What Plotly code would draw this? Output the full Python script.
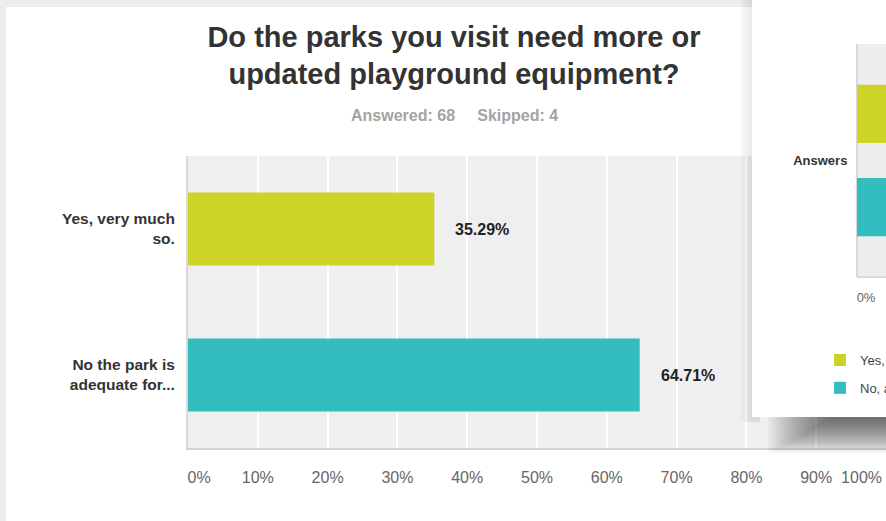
import plotly.graph_objects as go

W, H = 886, 521
FONT = "Liberation Sans, Arial, Helvetica, sans-serif"
NB = "\u00a0"

# ---------------- data ----------------
categories = ["Yes, very much so.", "No the park is adequate for..."]
category_ticktext = ["Yes, very much<br>so.", "No the park is<br>adequate for..."]
percent_values = [35.29, 64.71]
value_labels = ["35.29%", "64.71%"]
bar_colors = ["#cdd428", "#33bdbe"]
x_tick_values = [0, 10, 20, 30, 40, 50, 60, 70, 80, 90, 100]
x_tick_labels = ["0%", "10%", "20%", "30%", "40%", "50%", "60%", "70%", "80%", "90%", "100%"]
title_text = "Do the parks you visit need more or<br>updated playground equipment?"
answered_text = "Answered: 68"
skipped_text = "Skipped: 4"

# popup chart partly visible on the right
inset_categories = ["Answers"]
inset_series_names = ["Yes, very much so.", "No, a..."]
inset_values = [35.29, 64.71]
inset_tick_values = [0]
inset_tick_labels = ["0%"]


# ---------------- helpers (pixel -> coordinates) ----------------
def px_x(px):
    return px / W


def px_y(py):
    return (H - py) / H


X2_ZERO, X2_SCALE = 857, 0.2
Y2_TOP, Y2_BAND = 44, 233


def x2(px):
    return (px - X2_ZERO) * X2_SCALE


def y2(py):
    return -0.5 + (py - Y2_TOP) / Y2_BAND


# tick labels: first left-aligned, last right-aligned like the original
main_ticktext = list(x_tick_labels)
main_ticktext[0] = NB * 5 + main_ticktext[0]
main_ticktext[-1] = main_ticktext[-1] + NB * 11
inset_ticktext = [NB * 5 + t for t in inset_tick_labels]

fig = go.Figure()

fig.add_trace(go.Bar(
    x=percent_values, y=categories, orientation="h",
    marker=dict(color=bar_colors, line=dict(width=0)),
    showlegend=False, hoverinfo="skip", xaxis="x", yaxis="y",
))

for name, val, col in zip(inset_series_names, inset_values, bar_colors):
    fig.add_trace(go.Bar(
        x=[val], y=inset_categories, orientation="h", name=name,
        marker=dict(color=col, line=dict(width=0)),
        legendgroup=name, hoverinfo="skip", xaxis="x2", yaxis="y2",
    ))

shapes = [
    # white card on the light page
    dict(type="rect", xref="paper", yref="paper", x0=px_x(6), x1=1.02, y0=-0.02, y1=px_y(7),
         fillcolor="white", line=dict(width=0), layer="below"),
    # main plot background
    dict(type="rect", xref="paper", yref="paper", x0=px_x(188), x1=1.0, y0=px_y(448), y1=px_y(156),
         fillcolor="#efefef", line=dict(width=0), layer="below"),
]

# popup shadow (soft, darker to the lower right)
for i in range(22):
    shapes.append(dict(type="rect", xref="x2", yref="y2",
                       x0=x2(768 + 3 * i), x1=x2(900), y0=y2(400), y1=y2(453 - 1.6 * i),
                       fillcolor="rgba(0,0,0,0.033)", line=dict(width=0), layer="below"))
for i in range(4):
    shapes.append(dict(type="rect", xref="x2", yref="y2",
                       x0=x2(740 + 3 * i), x1=x2(760), y0=y2(-5), y1=y2(422),
                       fillcolor="rgba(0,0,0,0.018)", line=dict(width=0), layer="below"))
# popup panel
shapes.append(dict(type="rect", xref="x2", yref="y2", x0=x2(752), x1=x2(900), y0=y2(-5), y1=y2(417),
                   fillcolor="white", line=dict(width=0), layer="below"))
# popup plot area
shapes.append(dict(type="rect", xref="x2", yref="y2", x0=x2(857), x1=x2(900), y0=y2(44), y1=y2(277),
                   fillcolor="#eeeeee", line=dict(width=0), layer="below"))
shapes.append(dict(type="line", xref="x2", yref="y2", x0=x2(857), x1=x2(857), y0=y2(44), y1=y2(277),
                   line=dict(color="#d9d9d9", width=2), layer="below"))
shapes.append(dict(type="line", xref="x2", yref="y2", x0=x2(857), x1=x2(900), y0=y2(277), y1=y2(277),
                   line=dict(color="#d9d9d9", width=2), layer="below"))

annotations = [
    dict(text=f"<b>{answered_text}{NB*4} {skipped_text}</b>", xref="paper", yref="paper",
         x=px_x(454), y=px_y(116), xanchor="center", yanchor="middle", showarrow=False,
         font=dict(family=FONT, size=16, color="#a3a3a3")),
]
for cat, val, lab in zip(categories, percent_values, value_labels):
    annotations.append(dict(text=f"<b>{lab}</b>", x=val, y=cat, xref="x", yref="y",
                            xanchor="left", yanchor="middle", xshift=19, showarrow=False,
                            font=dict(family=FONT, size=16, color="#222222")))

fig.update_layout(
    width=W, height=H,
    margin=dict(l=0, r=0, t=0, b=0, pad=0, autoexpand=False),
    paper_bgcolor="#ededed", plot_bgcolor="rgba(0,0,0,0)",
    barmode="group", bargap=0.2, bargroupgap=0.375,
    hovermode=False,
    title=dict(text=title_text, x=px_x(454), xref="container", xanchor="center",
               y=px_y(46.5), yref="container", yanchor="middle",
               font=dict(family=FONT, size=29, color="#333333", weight="bold")),
    xaxis=dict(domain=[px_x(188), 1.0], range=[0, 100], anchor="y",
               tickvals=x_tick_values, ticktext=main_ticktext,
               ticks="outside", ticklen=14, tickcolor="rgba(0,0,0,0)",
               ticklabeloverflow="allow",
               tickfont=dict(family=FONT, size=16, color="#666666"),
               showgrid=True, gridcolor="#ffffff", gridwidth=2, zeroline=False,
               showline=True, linecolor="#d4d4d4", linewidth=2, fixedrange=True),
    yaxis=dict(domain=[px_y(448), px_y(156)], anchor="x", type="category",
               autorange="reversed", categoryorder="array", categoryarray=categories,
               tickvals=categories, ticktext=category_ticktext,
               ticks="outside", ticklen=8, tickcolor="rgba(0,0,0,0)",
               tickfont=dict(family=FONT, size=15.5, color="#333333", weight="bold"),
               showgrid=False, zeroline=False,
               showline=True, linecolor="#dadada", linewidth=2, fixedrange=True),
    xaxis2=dict(domain=[px_x(738), 1.0], range=[x2(738), x2(886)], anchor="free",
                position=px_y(277), tickvals=inset_tick_values, ticktext=inset_ticktext,
                ticks="outside", ticklen=8, tickcolor="rgba(0,0,0,0)",
                ticklabeloverflow="allow",
                tickfont=dict(family=FONT, size=13, color="#666666"),
                showgrid=False, zeroline=False, showline=False, fixedrange=True),
    yaxis2=dict(domain=[px_y(455), 1.0], range=[y2(455), y2(0)], anchor="free",
                position=px_x(857), type="category", categoryarray=inset_categories,
                tickvals=inset_categories, ticktext=inset_categories,
                ticks="outside", ticklen=7, tickcolor="rgba(0,0,0,0)",
                tickfont=dict(family=FONT, size=13, color="#333333", weight="bold"),
                showgrid=False, zeroline=False, showline=False, fixedrange=True),
    legend=dict(x=px_x(820), y=px_y(345), xanchor="left", yanchor="top",
                xref="paper", yref="paper", bgcolor="rgba(0,0,0,0)",
                font=dict(family=FONT, size=13, color="#444444"),
                tracegroupgap=8, traceorder="grouped"),
    shapes=shapes,
    annotations=annotations,
)

fig.write_html(
    "out.html",
    config={"displayModeBar": False},
    post_script="document.body.style.margin='0';document.body.style.overflow='hidden';",
)
